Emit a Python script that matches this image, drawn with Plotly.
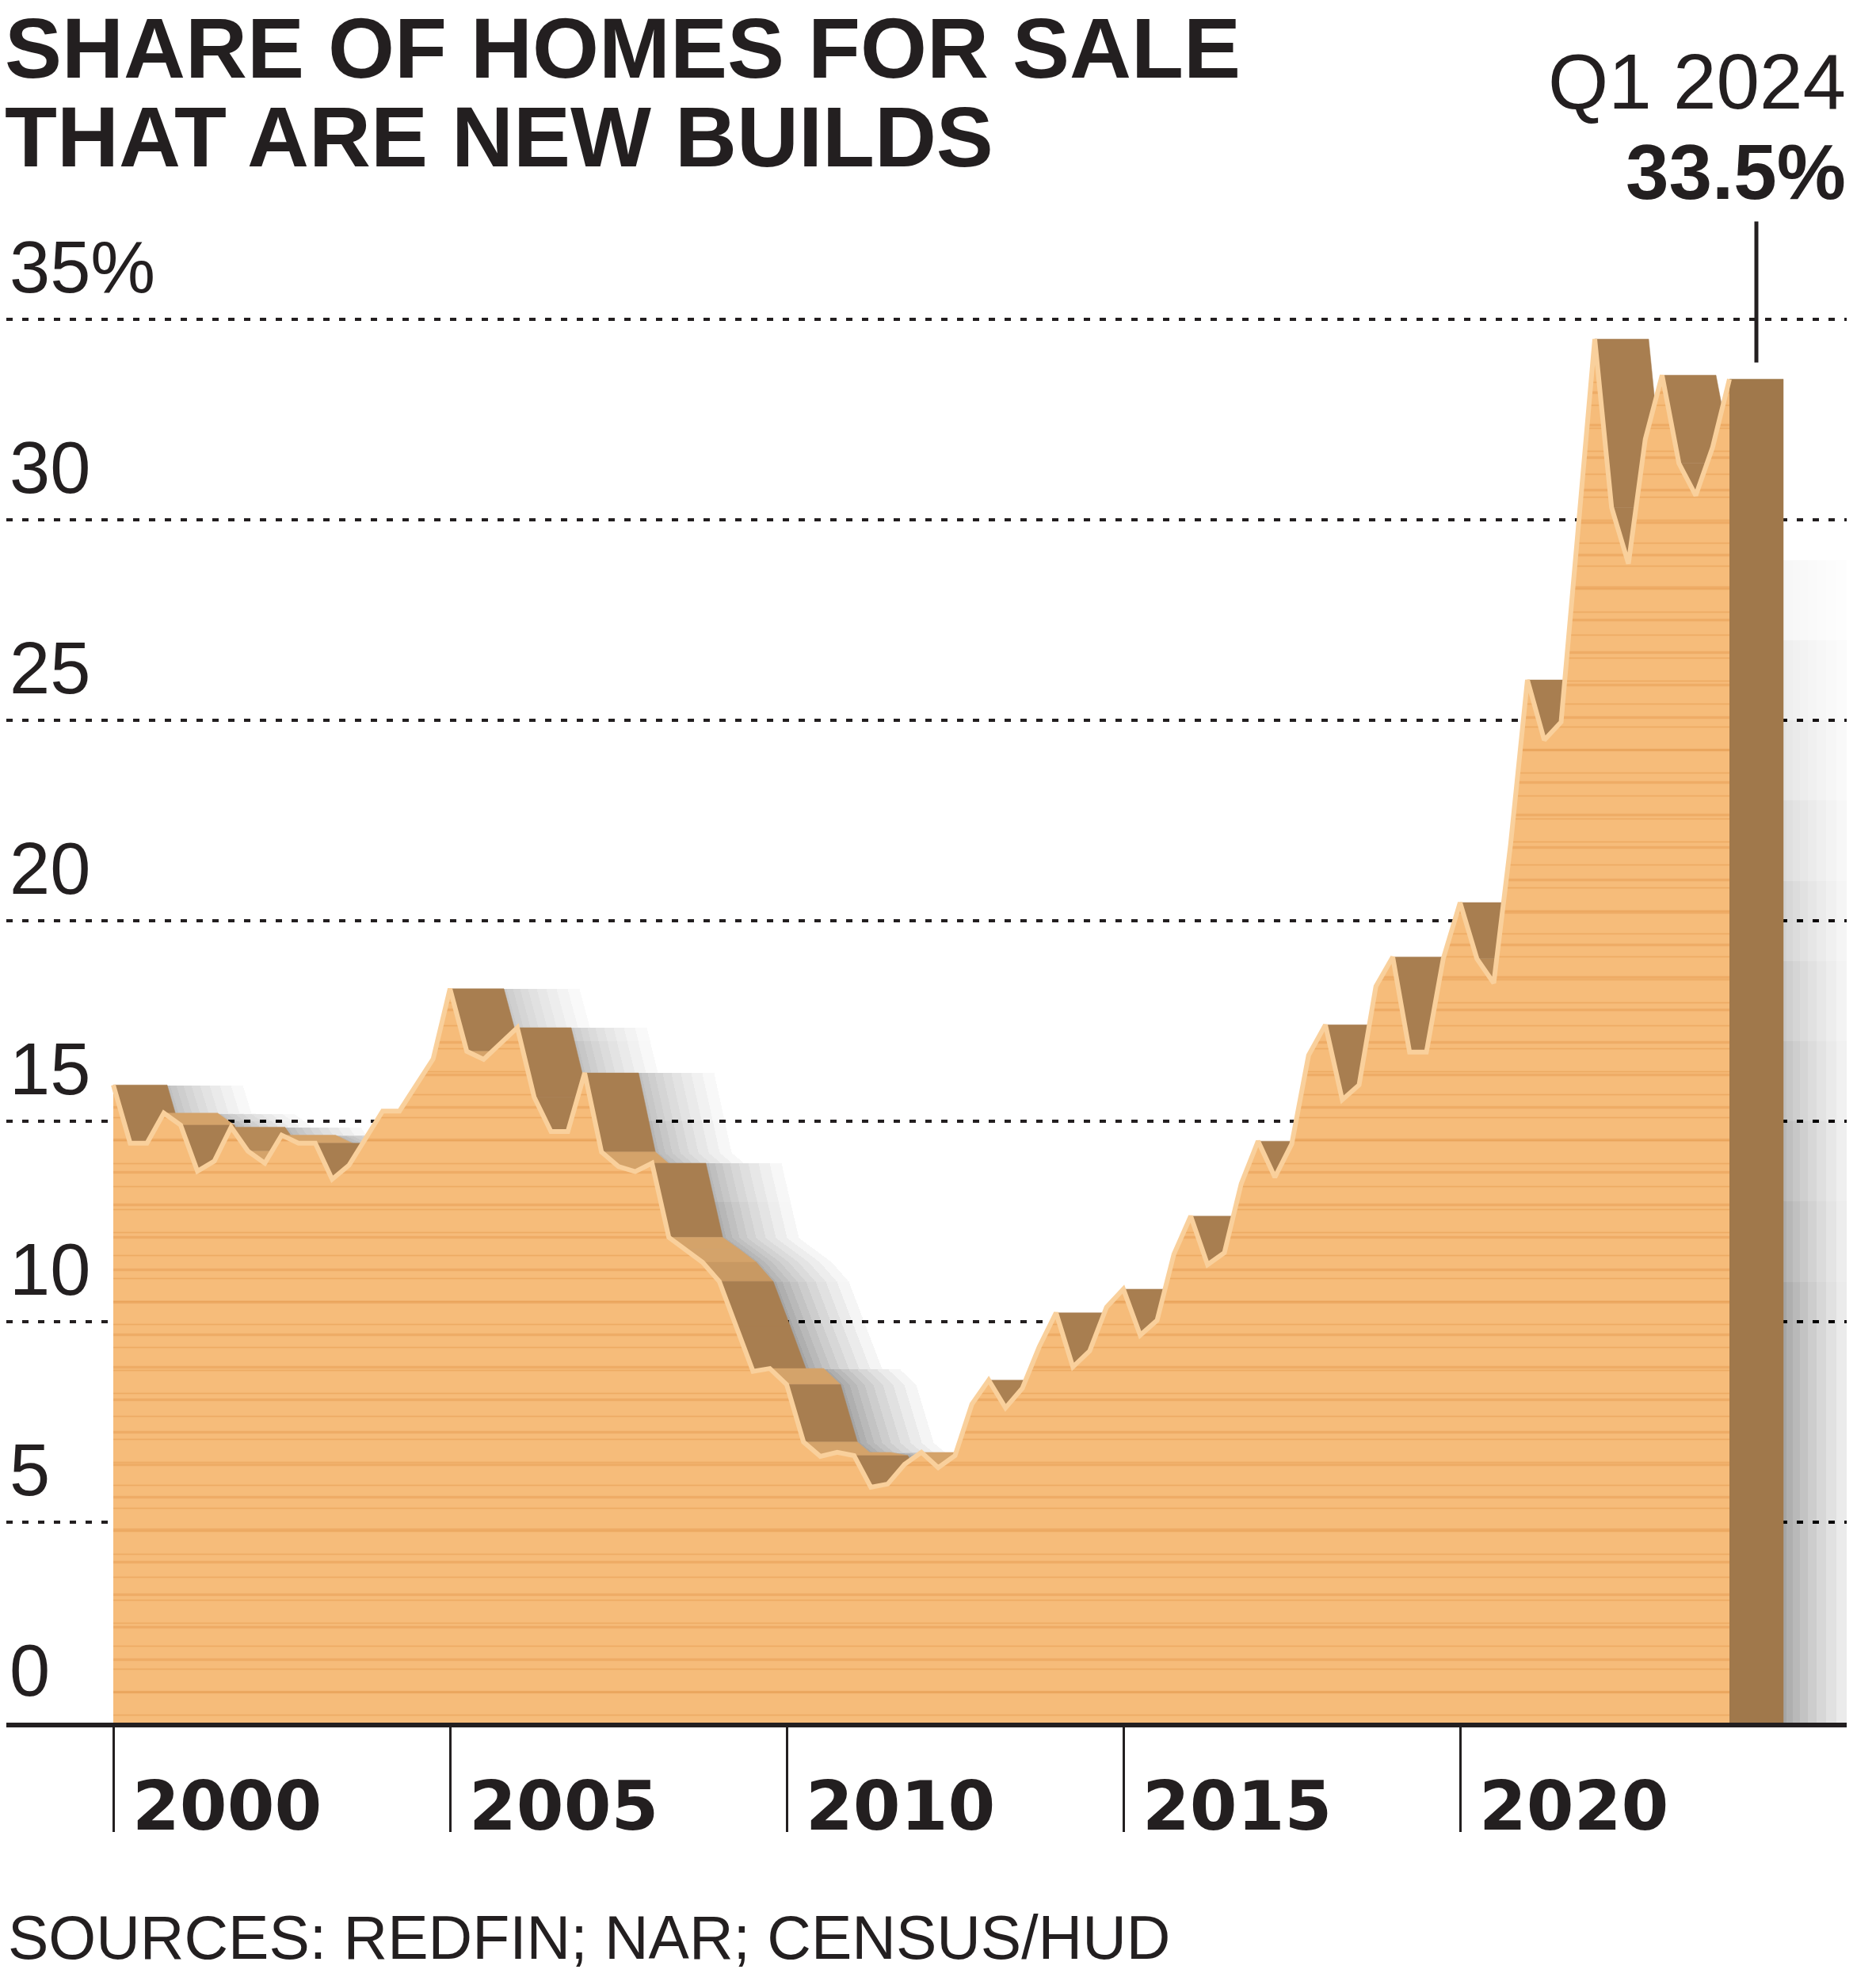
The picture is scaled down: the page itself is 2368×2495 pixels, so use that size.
import numpy as np
import plotly.graph_objects as go

# ---------------- data ----------------
START_YEAR = 2000
# quarterly share of homes for sale that are new builds, Q1 2000 .. Q1 2024 (%)
share = [
    15.9, 14.45, 14.45, 15.2, 14.9, 13.75, 14.0, 14.85, 14.25, 13.95,
    14.65, 14.45, 14.45, 13.55, 13.9, 14.55, 15.25, 15.25, 15.9, 16.55,
    18.3, 16.74, 16.54, 16.94, 17.33, 15.6, 14.74, 14.74, 16.2, 14.23,
    13.87, 13.74, 13.95, 12.1, 11.8, 11.48, 11.0, 9.9, 8.76, 8.83,
    8.43, 7.0, 6.64, 6.74, 6.66, 5.87, 5.95, 6.44, 6.74, 6.36,
    6.66, 7.94, 8.54, 7.85, 8.34, 9.37, 10.22, 8.87, 9.27, 10.36,
    10.81, 9.66, 10.03, 11.68, 12.63, 11.42, 11.72, 13.44, 14.5, 13.6,
    14.43, 16.64, 17.4, 15.53, 15.9, 18.36, 19.09, 16.72, 16.72, 19.05,
    20.45, 19.05, 18.44, 21.9, 26.0, 24.5, 24.95, 29.7, 34.5, 30.3,
    28.9, 32.0, 33.6, 31.4, 30.6, 31.8, 33.5,
]
grid_values = [0, 5, 10, 15, 20, 25, 30, 35]
grid_labels = ["0", "5", "10", "15", "20", "25", "30", "35%"]
year_ticks = [2000, 2005, 2010, 2015, 2020]
title_lines = ["SHARE OF HOMES FOR SALE", "THAT ARE NEW BUILDS"]
callout_period = "Q1 2024"
callout_value = "33.5%"
source_text = "SOURCES: REDFIN; NAR; CENSUS/HUD"

# ---------------- geometry / style ----------------
W, H = 2368, 2495
PLOT_L, PLOT_R, PLOT_T, PLOT_B = 8, 2331, 352.4, 2174
Y_MAX = 36
PX_PER_YEAR = 85.0
X0_PX = 143
X_MIN = START_YEAR - (X0_PX - PLOT_L) / PX_PER_YEAR
X_MAX = START_YEAR + (PLOT_R - X0_PX) / PX_PER_YEAR
PX_PER_PCT = (PLOT_B - PLOT_T) / Y_MAX
DEPTH = 0.8  # extrusion depth in years

INK = "#231F20"
WOOD = "#F6BC7A"
GRAIN = "#E59C52"
EDGE = "#F9D09C"
FACE_DARK = np.array([168, 126, 80])
FACE_LIGHT = np.array([212, 163, 106])

xs = np.array([START_YEAR + i / 4 for i in range(len(share))])
ys = np.array(share, dtype=float)


def paper_x(px):
    return (px - PLOT_L) / (PLOT_R - PLOT_L)


def paper_y(py):
    return (PLOT_B - py) / (PLOT_B - PLOT_T)


fig = go.Figure()

# ---------------- soft shadow: stacked, faint, wider & lower swept silhouettes ----------------
step = 1 / 170.0
xf = np.arange(xs[0], xs[-1] + 1e-9, step)
ff = np.interp(xf, xs, ys)


def swept(width_years):
    n = int(round(width_years / step))
    padded = np.concatenate([np.zeros(n), ff, np.zeros(n)])
    win = np.lib.stride_tricks.sliding_window_view(padded, n + 1).max(axis=1)
    xx = xs[0] + np.arange(len(win)) * step
    return xx[::2], win[::2]


SHADOW_RGBA = "rgba(110,105,120,0.0043)"
for extra_px in [4, 12, 21, 31, 42, 54, 67, 81, 96]:
    sx, sy = swept(DEPTH + extra_px / PX_PER_YEAR)
    for cap in range(11, 30, 2):
        cy = np.minimum(sy, cap)
        fig.add_trace(go.Scatter(
            x=np.round(np.concatenate([[sx[0]], sx, [sx[-1]]]), 4),
            y=np.round(np.concatenate([[0], cy, [0]]), 3),
            fill="toself", mode="lines", line=dict(width=0),
            fillcolor=SHADOW_RGBA, hoverinfo="skip", showlegend=False,
        ))

# ---------------- extruded side faces (painter's order, left to right) ----------------
faces = []
for k in range(len(xs) - 1):
    if ys[k + 1] < ys[k]:
        faces.append((xs[k], ys[k], xs[k + 1], ys[k + 1]))
faces.append((xs[-1], ys[-1], xs[-1], 0.0))  # right edge of the slab

for x1, y1, x2, y2 in faces:
    dx_px = (x2 - x1) * PX_PER_YEAR
    dy_px = (y1 - y2) * PX_PER_PCT
    theta = np.degrees(np.arctan2(dy_px, dx_px))
    t = np.clip((theta - 45) / 15.0, 0, 1)
    c = FACE_LIGHT + (FACE_DARK - FACE_LIGHT) * t
    if x1 == x2:
        c = np.array([160, 120, 75])
    col = "rgb(%d,%d,%d)" % tuple(int(v) for v in c)
    fig.add_trace(go.Scatter(
        x=[x1, x2, x2 + DEPTH, x1 + DEPTH, x1],
        y=[y1, y2, y2, y1, y1],
        fill="toself", mode="lines", line=dict(width=0.5, color=col),
        fillcolor=col, hoverinfo="skip", showlegend=False,
    ))

# ---------------- front wooden face ----------------
fig.add_trace(go.Scatter(
    x=xs, y=ys, fill="tozeroy", mode="lines", line=dict(width=0, color=WOOD),
    fillcolor=WOOD,
    fillpattern=dict(shape="-", fgcolor=GRAIN, bgcolor=WOOD, size=41, solidity=0.08),
    hoverinfo="skip", showlegend=False,
))
fig.add_trace(go.Scatter(
    x=xs, y=ys, fill="tozeroy", mode="lines", line=dict(width=0, color=WOOD),
    fillcolor="rgba(0,0,0,0)",
    fillpattern=dict(shape="-", fgcolor=GRAIN, bgcolor="rgba(0,0,0,0)",
                     size=29, solidity=0.06, fgopacity=0.55),
    hoverinfo="skip", showlegend=False,
))
fig.add_trace(go.Scatter(
    x=xs, y=ys, mode="lines", line=dict(width=6, color=EDGE),
    hoverinfo="skip", showlegend=False,
))

# ---------------- text ----------------
ann = []
for i, line in enumerate(title_lines):
    ann.append(dict(text=line, xref="paper", yref="paper", x=paper_x(4), y=paper_y(61 + 112 * i),
                    xanchor="left", yanchor="middle", showarrow=False,
                    font=dict(family="Liberation Sans", size=108, color=INK, weight="bold")))

for v, lab in zip(grid_values, grid_labels):
    ann.append(dict(text=lab, xref="paper", yref="y", x=0, y=v, yshift=66,
                    xanchor="left", yanchor="middle", xshift=2, showarrow=False,
                    font=dict(family="Liberation Sans", size=92, color=INK)))

for yr in year_ticks:
    ann.append(dict(text=str(yr), xref="x", yref="paper", x=yr, y=0, yshift=-(2279 - PLOT_B),
                    xanchor="left", yanchor="middle", xshift=22, showarrow=False,
                    font=dict(family="DejaVu Sans", size=86, color=INK, weight="bold")))

ann.append(dict(text=callout_period, xref="paper", yref="paper", x=paper_x(2332), y=paper_y(103),
                xanchor="right", yanchor="middle", showarrow=False,
                font=dict(family="Liberation Sans", size=98, color=INK)))
ann.append(dict(text=callout_value, xref="paper", yref="paper", x=paper_x(2332), y=paper_y(217),
                xanchor="right", yanchor="middle", showarrow=False,
                font=dict(family="Liberation Sans", size=98, color=INK, weight="bold")))
ann.append(dict(text=source_text, xref="paper", yref="paper", x=paper_x(8), y=paper_y(2445),
                xanchor="left", yanchor="middle", showarrow=False,
                font=dict(family="Liberation Sans", size=77, color=INK)))

bar_center_px = X0_PX + (xs[-1] + DEPTH / 2 - START_YEAR) * PX_PER_YEAR
shapes = [dict(type="line", xref="paper", yref="paper",
               x0=paper_x(bar_center_px), x1=paper_x(bar_center_px),
               y0=paper_y(458), y1=paper_y(280),
               line=dict(color=INK, width=5))]

fig.update_layout(
    width=W, height=H,
    margin=dict(l=PLOT_L, r=W - PLOT_R, t=PLOT_T, b=H - PLOT_B, pad=0),
    paper_bgcolor="white", plot_bgcolor="white",
    showlegend=False, hovermode=False,
    annotations=ann, shapes=shapes,
    xaxis=dict(range=[X_MIN, X_MAX], showgrid=False, zeroline=False,
               showline=True, linecolor=INK, linewidth=6,
               ticks="outside", ticklen=132, tickwidth=3, tickcolor=INK,
               tickvals=year_ticks, showticklabels=False, fixedrange=True),
    yaxis=dict(range=[0, Y_MAX], showgrid=True, gridcolor=INK, gridwidth=4,
               griddash="8px,12px", tickvals=grid_values[1:], showticklabels=False,
               zeroline=False, showline=False, ticks="", fixedrange=True),
)

fig.write_html("out.html")
